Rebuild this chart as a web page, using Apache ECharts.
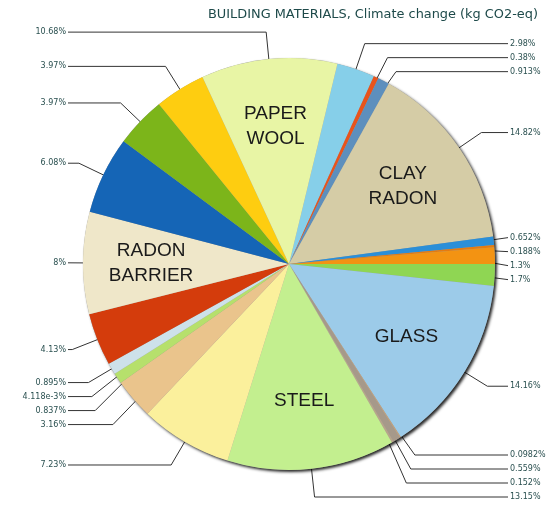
<!DOCTYPE html>
<html><head><meta charset="utf-8">
<script src="https://cdn.jsdelivr.net/npm/echarts/dist/echarts.min.js"></script>
<style>html,body{margin:0;padding:0;background:#fff}#c{width:551px;height:512px}</style>
</head><body><div id="c"></div>
<script>
// ---- data (clockwise from just right of 12 o'clock) ----
const names = ['', '', '', 'CLAY RADON', '', '', '', '', 'GLASS', '', '', '', 'STEEL', '', '', '', '', '', '', 'RADON BARRIER', '', '', '', 'PAPER WOOL'];
const values = [2.98, 0.38, 0.913, 14.82, 0.652, 0.188, 1.3, 1.7, 14.16, 0.0982, 0.559, 0.152, 13.15, 7.23, 3.16, 0.837, 0.004118, 0.895, 4.13, 8, 6.08, 3.97, 3.97, 10.68];
const colors = ['#86cfe9', '#e8541c', '#5d8fbd', '#d5cca6', '#2b8fd8', '#e57b10', '#f39312', '#8fd653',
  '#9ccbe9', '#c4a27c', '#a6998a', '#b9a58a', '#c3ef8f', '#fbf09c', '#eac48c', '#b6e06c', '#d8d8d8',
  '#cde1ea', '#d43c0c', '#efe7c9', '#1565b6', '#7cb51a', '#fecd10', '#e8f5a5'];
const title = 'BUILDING MATERIALS, Climate change (kg CO2-eq)';

// ---- layout parameters ----
const CX = 289, CY = 264, R = 206;
const START = 13.6;          // degrees clockwise from 12 o'clock
const R_IN = 0.83 * R;       // leader line start
const R_EL = 233;            // elbow radius
const GAP = 14, MAXY = 497, MINY = 20;
const COL_R = 508, COL_L = 68;

function fmt(v) { return (v < 0.01 ? v.toExponential(3) : String(v)) + '%'; }

const total = values.reduce((a, b) => a + b, 0);
let cum = 0;
const info = values.map((v, i) => {
  const th = (START + (cum + v / 2) / total * 360) * Math.PI / 180;
  cum += v;
  return { i, s: Math.sin(th), c: Math.cos(th), y: CY - R_EL * Math.cos(th) };
});
function resolve(list) {
  list.sort((a, b) => a.y - b.y);
  for (let k = 0; k < list.length; k++) {
    if (k > 0) list[k].y = Math.max(list[k].y, list[k - 1].y + GAP);
    else list[k].y = Math.max(list[k].y, MINY);
  }
  for (let k = list.length - 1; k >= 0; k--) {
    if (k === list.length - 1) list[k].y = Math.min(list[k].y, MAXY);
    else list[k].y = Math.min(list[k].y, list[k + 1].y - GAP);
  }
}
const right = info.filter(d => d.s >= 0), left = info.filter(d => d.s < 0);
resolve(right); resolve(left);
const pos = {};
info.forEach(d => {
  const isR = d.s >= 0;
  const p0 = [CX + R_IN * d.s, CY - R_IN * d.c];
  let ex = CX + R_EL * d.s;
  ex = isR ? Math.min(ex, COL_R) : Math.max(ex, COL_L);
  const col = isR ? COL_R : COL_L;
  pos[d.i] = {
    x: isR ? col + 2 : col - 2, y: d.y, align: isR ? 'left' : 'right',
    pts: [p0, [ex, d.y], [col, d.y]]
  };
});

const chart = echarts.init(document.getElementById('c'), null, { renderer: 'canvas' });
chart.setOption({
  animation: false,
  title: {
    text: title, right: 8, top: 3,
    textStyle: { fontFamily: 'DejaVu Sans', fontSize: 12.9, fontWeight: 'normal', color: '#1e4a4a' }
  },
  series: [
    {
      type: 'pie', center: [CX, CY], radius: R, silent: true,
      data: [{ value: 1, name: 'shadow' }],
      itemStyle: { color: '#999', shadowColor: 'rgba(0,0,0,0.85)', shadowBlur: 3, shadowOffsetX: 2, shadowOffsetY: 2 },
      label: { show: false }, labelLine: { show: false }
    },
    {
      type: 'pie', center: [CX, CY], radius: R, startAngle: 90 - START, clockwise: true,
      avoidLabelOverlap: false, silent: true,
      data: values.map((v, i) => ({ value: v, name: names[i] || ('s' + i), itemStyle: { color: colors[i] } })),
      itemStyle: { borderWidth: 0 },
      label: {
        show: true, position: 'outside', formatter: p => fmt(p.value),
        fontFamily: 'DejaVu Sans', fontSize: 8, color: '#2a5050'
      },
      labelLine: { show: true, length: 10, length2: 10, lineStyle: { color: '#333', width: 1 } },
      labelLayout: function (params) {
        const p = pos[params.dataIndex];
        if (!p) return;
        return { x: p.x, y: p.y, align: p.align, verticalAlign: 'middle', labelLinePoints: p.pts };
      }
    },
    {
      type: 'pie', center: [CX, CY], radius: R * 1.31, startAngle: 90 - START, clockwise: true,
      silent: true, avoidLabelOverlap: false,
      data: values.map((v, i) => ({ value: v, name: names[i] })),
      itemStyle: { color: 'rgba(0,0,0,0)', borderWidth: 0 },
      label: {
        show: true, position: 'inside', formatter: p => p.name.replace(' ', '\n'),
        fontFamily: 'Liberation Sans', fontSize: 19, lineHeight: 25, color: '#1a1a1a'
      },
      labelLine: { show: false }
    }
  ]
});
</script>
</body></html>
